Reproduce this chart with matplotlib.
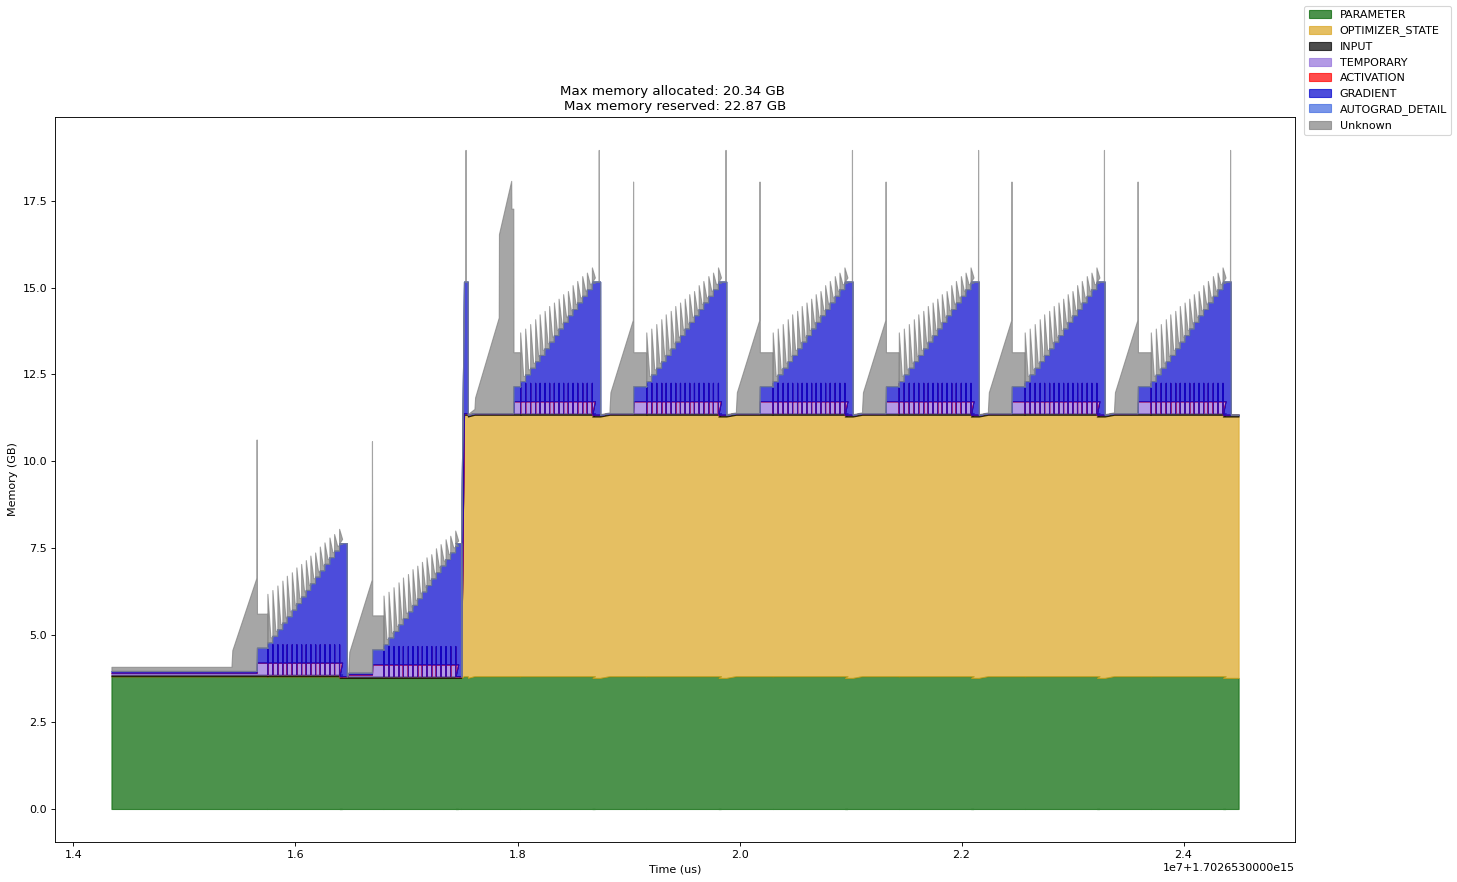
import numpy as np
import matplotlib
matplotlib.use("Agg")
import matplotlib.pyplot as plt
from matplotlib.ticker import ScalarFormatter

# memory categories, bottom to top, with their colours
CATEGORIES = ["PARAMETER", "OPTIMIZER_STATE", "INPUT", "TEMPORARY",
              "ACTIVATION", "GRADIENT", "AUTOGRAD_DETAIL", "Unknown"]
COLORS = ["darkgreen", "goldenrod", "black", "mediumpurple",
          "red", "mediumblue", "royalblue", "grey"]

START_US = 1702653014342000.0   # first sample of the trace (us)
END_MS = 10154                  # last sample, ms after start

# sizes in GB
PARAM_GB = 3.82
PARAM_DIP_GB = 3.77
OPT_GB = 7.52
INPUT_GB = 0.05
TEMP_GB = 0.34
TEMP_PEAK_GB = 0.87                      # short temporary burst at each tooth
GRAD_BLOCK_GB = 0.43
UNKNOWN_IDLE_GB = 0.12
UNKNOWN_RAMP_GB = [0.12, 0.60, 2.68]     # ramp start, kink, ramp top
UNKNOWN_SPIKE_GB = 6.66                  # forward spike
UNKNOWN_BLOCK_GB = 0.98
UNKNOWN_TALL_GB = 3.79                   # spike before the drop
GRAD_END_GB = 3.78                       # gradient block at end of backward

# backward pass: gradient grows tooth by tooth, unknown spikes at each tooth
TOOTH_MS = [0, 45, 90, 135, 175, 220, 261, 304, 346, 387, 430, 472, 514, 559, 601, 646]
TOOTH_GRAD_GB = [0.58, 0.77, 0.96, 1.15, 1.33, 1.52, 1.71, 1.90,
                 2.09, 2.28, 2.47, 2.65, 2.84, 3.03, 3.22, 3.41]
TOOTH_UNKNOWN_GB = [1.40, 1.32, 1.26, 1.21, 1.17, 1.08, 1.03, 0.94,
                    0.86, 0.80, 0.70, 0.69, 0.62, 0.57, 0.48, 0.44]

# iteration event times, ms after start
WARMUP_MS = [[1081, 1306, 1405, 2120], [2135, 2345, 2451, 3150]]  # ramp, spike, teeth, drop
OPT_ON_MS = [3150, 3176, 3190, 3210]      # optimizer state appears, spike, drop
ITER3_MS = [3270, 3489, 3601, 3620, 3682, 4390, 4402]
ITER3_UNKNOWN_GB = [2.75, 5.15, 6.68, 5.88]
STEADY_START_MS = [4487, 5626, 6762, 7896, 9032]
STEADY_PHASE_MS = [210, 221, 331, 1045, 1051]   # spike, block, teeth, tall spike, drop


class TraceFormatter(ScalarFormatter):
    # offset written like "1e7+1.7026530000e15"
    def get_offset(self):
        if not self.offset:
            return super().get_offset()
        mant, exp = f"{self.offset:.10e}".split("e")
        return f"1e{self.orderOfMagnitude}+{mant}e{int(exp)}"


def build_timeline():
    cur = dict.fromkeys(CATEGORIES, 0.0)
    rows = []

    def at(t, **kw):
        cur.update(kw)
        rows.append([t] + [cur[c] for c in CATEGORIES])

    def teeth(t0):
        for i, dt in enumerate(TOOTH_MS):
            t = t0 + dt
            prev = TOOTH_GRAD_GB[i - 1] if i else GRAD_BLOCK_GB
            at(t - 1, Unknown=0.15)
            at(t - 0.6, TEMPORARY=0.0, GRADIENT=prev + TEMP_GB)
            at(t - 0.3, TEMPORARY=TEMP_PEAK_GB,
               GRADIENT=max(prev + TEMP_GB - TEMP_PEAK_GB, 0.0))
            at(t, TEMPORARY=TEMP_GB, GRADIENT=TOOTH_GRAD_GB[i], Unknown=TOOTH_UNKNOWN_GB[i])
            at(t + 27, Unknown=0.15)
        return t0 + TOOTH_MS[-1]

    def forward(ramp, spike):
        at(ramp, Unknown=UNKNOWN_RAMP_GB[0])
        at(ramp + 8, Unknown=UNKNOWN_RAMP_GB[1])
        at(spike, Unknown=UNKNOWN_RAMP_GB[2])
        at(spike + 2, Unknown=UNKNOWN_SPIKE_GB)
        at(spike + 5, TEMPORARY=TEMP_GB, GRADIENT=GRAD_BLOCK_GB, Unknown=UNKNOWN_BLOCK_GB)

    def backward_end(tend, tall, drop):
        at(tend + 3, PARAMETER=PARAM_DIP_GB, TEMPORARY=0.0, GRADIENT=GRAD_END_GB + 0.05, Unknown=0.0)
        at(tall - 1)
        at(tall, Unknown=UNKNOWN_TALL_GB)
        at(tall + 1, Unknown=0.0)
        at(drop)
        at(drop + 1, GRADIENT=0.0, Unknown=0.02)

    at(0, PARAMETER=PARAM_GB, INPUT=INPUT_GB, TEMPORARY=0.05, GRADIENT=0.05, Unknown=UNKNOWN_IDLE_GB)

    # two warm-up iterations without optimizer state
    for ramp, spike, tstart, drop in WARMUP_MS:
        at(ramp, TEMPORARY=0.05, GRADIENT=0.05)
        forward(ramp, spike)
        at(tstart, Unknown=UNKNOWN_BLOCK_GB)
        tend = teeth(tstart)
        at(tend + 3, PARAMETER=PARAM_DIP_GB, TEMPORARY=0.0, GRADIENT=GRAD_END_GB + 0.05, Unknown=0.0)
        at(drop)
        at(drop + 1, GRADIENT=0.0, Unknown=0.0)

    # optimizer state is created
    t_on, t_full, t_spike, t_drop = OPT_ON_MS
    at(t_on, PARAMETER=PARAM_DIP_GB, GRADIENT=GRAD_END_GB + 0.05, Unknown=0.0)
    at(t_full, PARAMETER=PARAM_GB, OPTIMIZER_STATE=OPT_GB, GRADIENT=GRAD_END_GB)
    at(t_spike - 1)
    at(t_spike, Unknown=UNKNOWN_TALL_GB)
    at(t_spike + 1, Unknown=0.0)
    at(t_drop)
    at(t_drop + 1, PARAMETER=PARAM_DIP_GB, GRADIENT=0.0, Unknown=0.02)

    # first iteration with optimizer state
    ramp, knee, peak, blk, tstart, tall, drop = ITER3_MS
    at(ramp, PARAMETER=PARAM_GB, Unknown=UNKNOWN_RAMP_GB[0])
    at(ramp + 6, Unknown=0.45)
    at(knee, Unknown=ITER3_UNKNOWN_GB[0])
    at(knee + 2, Unknown=ITER3_UNKNOWN_GB[1])
    at(peak, Unknown=ITER3_UNKNOWN_GB[2])
    at(peak + 2, Unknown=ITER3_UNKNOWN_GB[3])
    at(blk, Unknown=ITER3_UNKNOWN_GB[3])
    at(blk + 2, TEMPORARY=TEMP_GB, GRADIENT=GRAD_BLOCK_GB, Unknown=UNKNOWN_BLOCK_GB)
    at(tstart, Unknown=UNKNOWN_BLOCK_GB)
    backward_end(teeth(tstart), tall, drop)

    # steady-state iterations
    sp, blk, tst, tall, drop = STEADY_PHASE_MS
    for r in STEADY_START_MS:
        at(r, PARAMETER=PARAM_GB)
        forward(r, r + sp)
        at(r + tst, Unknown=UNKNOWN_BLOCK_GB)
        backward_end(teeth(r + tst), r + tall, r + drop)

    at(END_MS)
    return np.array(rows)


data = build_timeline()
times = START_US + data[:, 0] * 1000.0
sizes = data[:, 1:]
stacked = np.hstack([np.zeros((len(times), 1)), np.cumsum(sizes, axis=1)])

fig = plt.figure(figsize=(1457 / 80, 882 / 80), dpi=80)
ax = fig.add_axes([0.0378, 0.0454, 0.8510, 0.8220])
for i, color in enumerate(COLORS):
    ax.fill_between(times, stacked[:, i], stacked[:, i + 1], color=color, alpha=0.7)
ax.xaxis.set_major_formatter(TraceFormatter())
fig.legend(CATEGORIES, loc="upper right")
ax.set_xlabel("Time (us)")
ax.set_ylabel("Memory (GB)")
ax.set_title("Max memory allocated: 20.34 GB \nMax memory reserved: 22.87 GB")

fig.savefig("out.png", dpi=80)
